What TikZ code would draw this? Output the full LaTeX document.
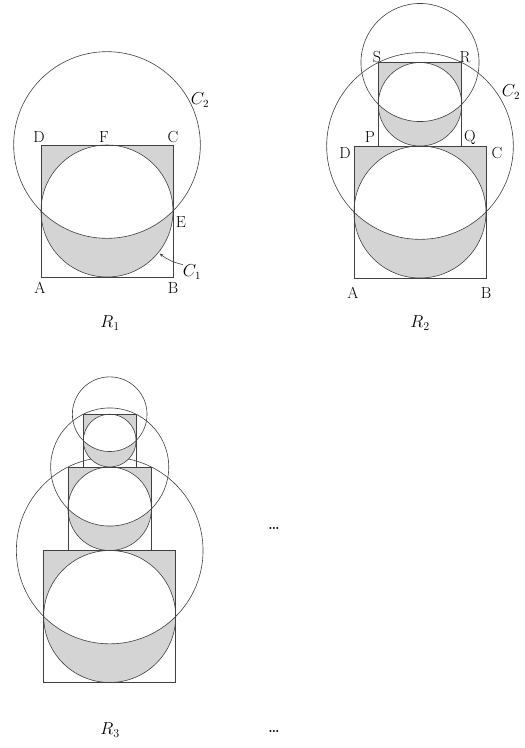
\documentclass[tikz,border=0pt]{standalone}
\usepackage{amsmath}
\usepackage{tikz}
\usetikzlibrary{arrows.meta, positioning, calc}

\begin{document}
\begin{tikzpicture}[x=1pt, y=-1pt, >=Stealth]
    \tikzset{line/.style={draw=black!75, line width=0.6pt},
        shaded/.style={fill=black!17},
        lbl/.style={font=\fontsize{16}{18}\selectfont, inner sep=0pt},
        title/.style={font=\fontsize{17}{19}\selectfont, inner sep=0pt},
        dots/.style={font=\fontsize{14}{16}\selectfont\bfseries, inner sep=0pt}
    }
    \useasboundingbox (0, 0) rectangle (525, 748);

    % square of side \s with its top edge at \t, centred on \cx
    \foreach \cx / \t / \s in {107/145/132, 420/146/132, 420/62.5/83.5,
            109.7/550.5/132, 109.7/467/83.5, 109.7/414.2/52.8} {
        \begin{scope}
            \clip (\cx - \s/2, \t) rectangle (\cx + \s/2, \t + \s);
            \fill [shaded, even odd rule] (\cx, \t + \s/2) circle [radius=\s/2]
                (\cx, \t) circle [radius=\s/1.41421];
        \end{scope}
        \draw [line] (\cx - \s/2, \t) rectangle (\cx + \s/2, \t + \s);
        \draw [line] (\cx, \t + \s/2) circle [radius=\s/2];
        \draw [line] (\cx, \t) circle [radius=\s/1.41421];
    }

    % R1
    \node (R1-D) [lbl] at (39, 137) {D};
    \node (R1-F) [lbl] at (104, 137) {F};
    \node (R1-C) [lbl] at (173, 137) {C};
    \node (R1-E) [lbl] at (181, 222) {E};
    \node (R1-A) [lbl] at (40, 288) {A};
    \node (R1-B) [lbl] at (173, 288) {B};
    \node (R1-C2) [lbl] at (200, 100) {$C_2$};
    \node (R1-C1) [lbl] at (192, 272) {$C_1$};
    \coordinate (R1-tip) at (159.5, 253.5);
    \draw [line, -{Stealth[length=4pt, width=3pt]}] (R1-C1.north west) to [bend left=12] (R1-tip);
    \node (R1-name) [title] at (110, 323) {$R_1$};

    % R2
    \node (R2-S) [lbl] at (377, 57) {S};
    \node (R2-R) [lbl] at (465, 57) {R};
    \node (R2-P) [lbl] at (370, 137) {P};
    \node (R2-Q) [lbl] at (470, 137) {Q};
    \node (R2-D) [lbl] at (345, 153) {D};
    \node (R2-C) [lbl] at (497, 153) {C};
    \node (R2-A) [lbl] at (353, 293) {A};
    \node (R2-B) [lbl] at (486, 293) {B};
    \node (R2-C2) [lbl] at (511, 92) {$C_2$};
    \node (R2-name) [title] at (420, 323) {$R_2$};

    % R3
    \node (R3-name) [title] at (110, 730) {$R_3$};
    \node (Dots1) [dots] at (274, 528) {\ldots};
    \node (Dots2) [dots] at (274, 731) {\ldots};
\end{tikzpicture}
\end{document}
